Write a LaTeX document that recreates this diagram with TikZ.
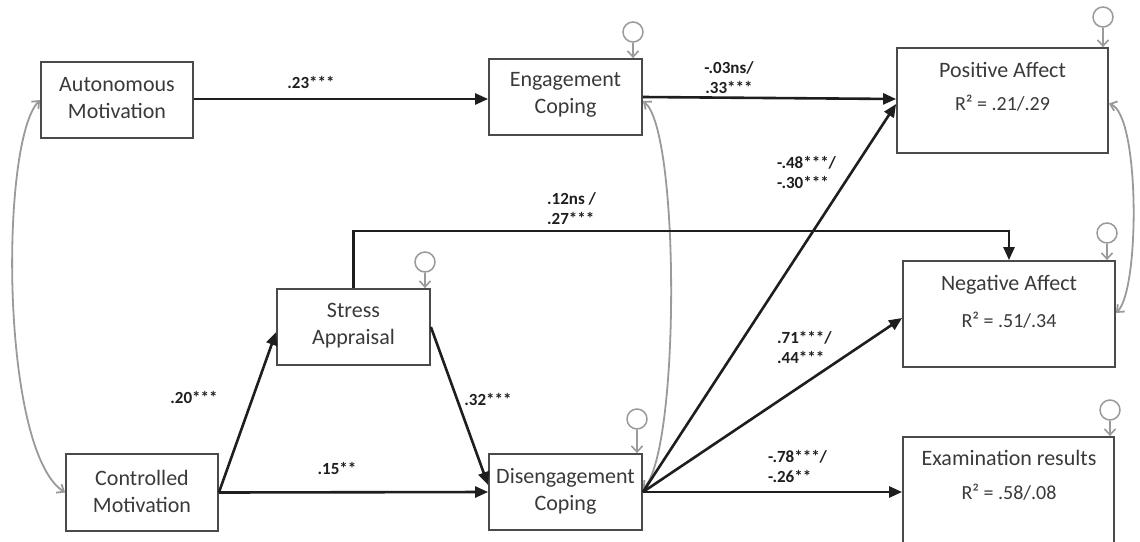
\documentclass[tikz,border=0pt]{standalone}
\usepackage{fontspec}
\setmainfont{Carlito}
\usetikzlibrary{arrows.meta,calc}
\definecolor{boxc}{HTML}{4A4A4A}
\definecolor{txtc}{HTML}{3A3A3A}
\definecolor{covc}{HTML}{9A9A9A}
\definecolor{arrc}{HTML}{1E1E1E}
\begin{document}
\begin{tikzpicture}[x=1pt,y=-1pt,
  box/.style={draw=boxc,line width=1.8pt,inner sep=0pt,fill=white},
  btxt/.style={text=txtc,font=\fontsize{22}{27}\selectfont,align=center,inner sep=0pt},
  rtxt/.style={text=txtc,font=\fontsize{20}{24}\selectfont,inner sep=0pt},
  lab/.style={font=\bfseries\fontsize{17}{20}\selectfont,text=arrc,inner sep=0pt,align=left},
  pth/.style={draw=arrc,line width=2.6pt,-{Triangle[length=13pt,width=11pt]}},
  cov/.style={draw=covc,line width=1.8pt,{Straight Barb[length=6pt,width=10pt]}-{Straight Barb[length=6pt,width=10pt]}},
  err/.style={circle,draw=covc,line width=1.5pt,minimum size=20pt,inner sep=0pt},
  errarr/.style={draw=covc,line width=1.6pt,-{Straight Barb[length=6pt,width=11pt]}}
]
\path[fill=white] (0,0) rectangle (1140,541);
\clip (0,0) rectangle (1140,541);

% boxes
\node[box,minimum width=152pt,minimum height=76pt] (auto) at (117,100) {};
\node[box,minimum width=153pt,minimum height=76pt] (eng) at (565.5,97) {};
\node[box,minimum width=211pt,minimum height=105pt] (pa) at (1002.5,100.5) {};
\node[box,minimum width=212pt,minimum height=106pt] (na) at (1009,314) {};
\node[box,minimum width=211pt,minimum height=123pt] (exam) at (1008.5,498.5) {};
\node[box,minimum width=153pt,minimum height=76pt] (stress) at (353.5,327) {};
\node[box,minimum width=152pt,minimum height=77pt] (ctrl) at (142,492.5) {};
\node[box,minimum width=153pt,minimum height=76pt] (dis) at (565.5,492) {};

% box texts
\node[btxt] (autot) at (117,98) {Autonomous\\Motivation};
\node[btxt] (engt) at (565.5,95) {Engagement\\Coping};
\node[btxt] (pat) at (1002.5,70) {Positive Affect};
\node[rtxt] (par) at (1002.5,103) {R² = .21/.29};
\node[btxt] (nat) at (1009,285) {Negative Affect};
\node[rtxt] (nar) at (1009,320) {R² = .51/.34};
\node[btxt] (examt) at (1009,458) {Examination results};
\node[rtxt] (examr) at (1009,492) {R² = .58/.08};
\node[btxt] (stresst) at (353.5,326) {Stress\\Appraisal};
\node[btxt] (ctrlt) at (142,491) {Controlled\\Motivation};
\node[btxt] (dist) at (565.5,491) {Disengagement\\Coping};

% covariances
\draw[cov] (auto.west) .. controls (0,140) and (0,450) .. (ctrl.west);
\draw[cov] ($(eng.east)+(0,4)$) .. controls (680,130) and (680,450) .. ($(dis.east)+(0,-3)$);
\draw[cov] ($(pa.east)+(0,3)$) .. controls (1140,115) and (1140,290) .. ($(na.east)+(0,-1)$);

% error terms
\node[err] (e1) at (633,32) {};
\node[err] (e2) at (1103,17) {};
\node[err] (e3) at (425,262) {};
\node[err] (e4) at (1107,233) {};
\node[err] (e5) at (637,419) {};
\node[err] (e6) at (1110,410) {};
\draw[errarr] (e1) -- (e1 |- eng.north);
\draw[errarr] (e2) -- (e2 |- pa.north);
\draw[errarr] (e3) -- (e3 |- stress.north);
\draw[errarr] (e4) -- (e4 |- na.north);
\draw[errarr] (e5) -- (e5 |- dis.north);
\draw[errarr] (e6) -- (e6 |- exam.north);

% paths
\draw[pth] ($(auto.east)+(0,-1)$) -- ($(eng.west)+(0,2)$);
\draw[pth] (eng.east) -- ($(pa.west)+(0,-1.5)$);
\draw[pth] (dis.east) -- ($(pa.west)+(0,3.5)$);
\draw[pth] (dis.east) -- ($(na.west)+(0,4)$);
\draw[pth] (dis.east) -- (exam.west |- dis.east);
\draw[pth] (stress.north) -- ++(0,-57) -| (na.north);
\draw[pth] (ctrl.east) -- ($(stress.west)+(0,5)$);
\draw[pth] (stress.east) -- ($(dis.west)+(0,-7)$);
\draw[pth] (ctrl.east) -- (dis.west);

% labels
\node[lab] (l1) at (311,82) {.23***};
\node[lab,align=center] (l2) at (729,78) {-.03ns/\\.33***};
\node[lab,anchor=west] (l3) at (547,209) {.12ns /\\.27***};
\node[lab,anchor=west] (l4) at (777,172) {-.48***/\\-.30***};
\node[lab,anchor=west] (l5) at (777,347) {.71***/\\.44***};
\node[lab,anchor=west] (l6) at (768,466) {-.78***/\\-.26**};
\node[lab] (l7) at (194,397) {.20***};
\node[lab] (l8) at (488,399) {.32***};
\node[lab] (l9) at (337,468) {.15**};
\end{tikzpicture}
\end{document}
